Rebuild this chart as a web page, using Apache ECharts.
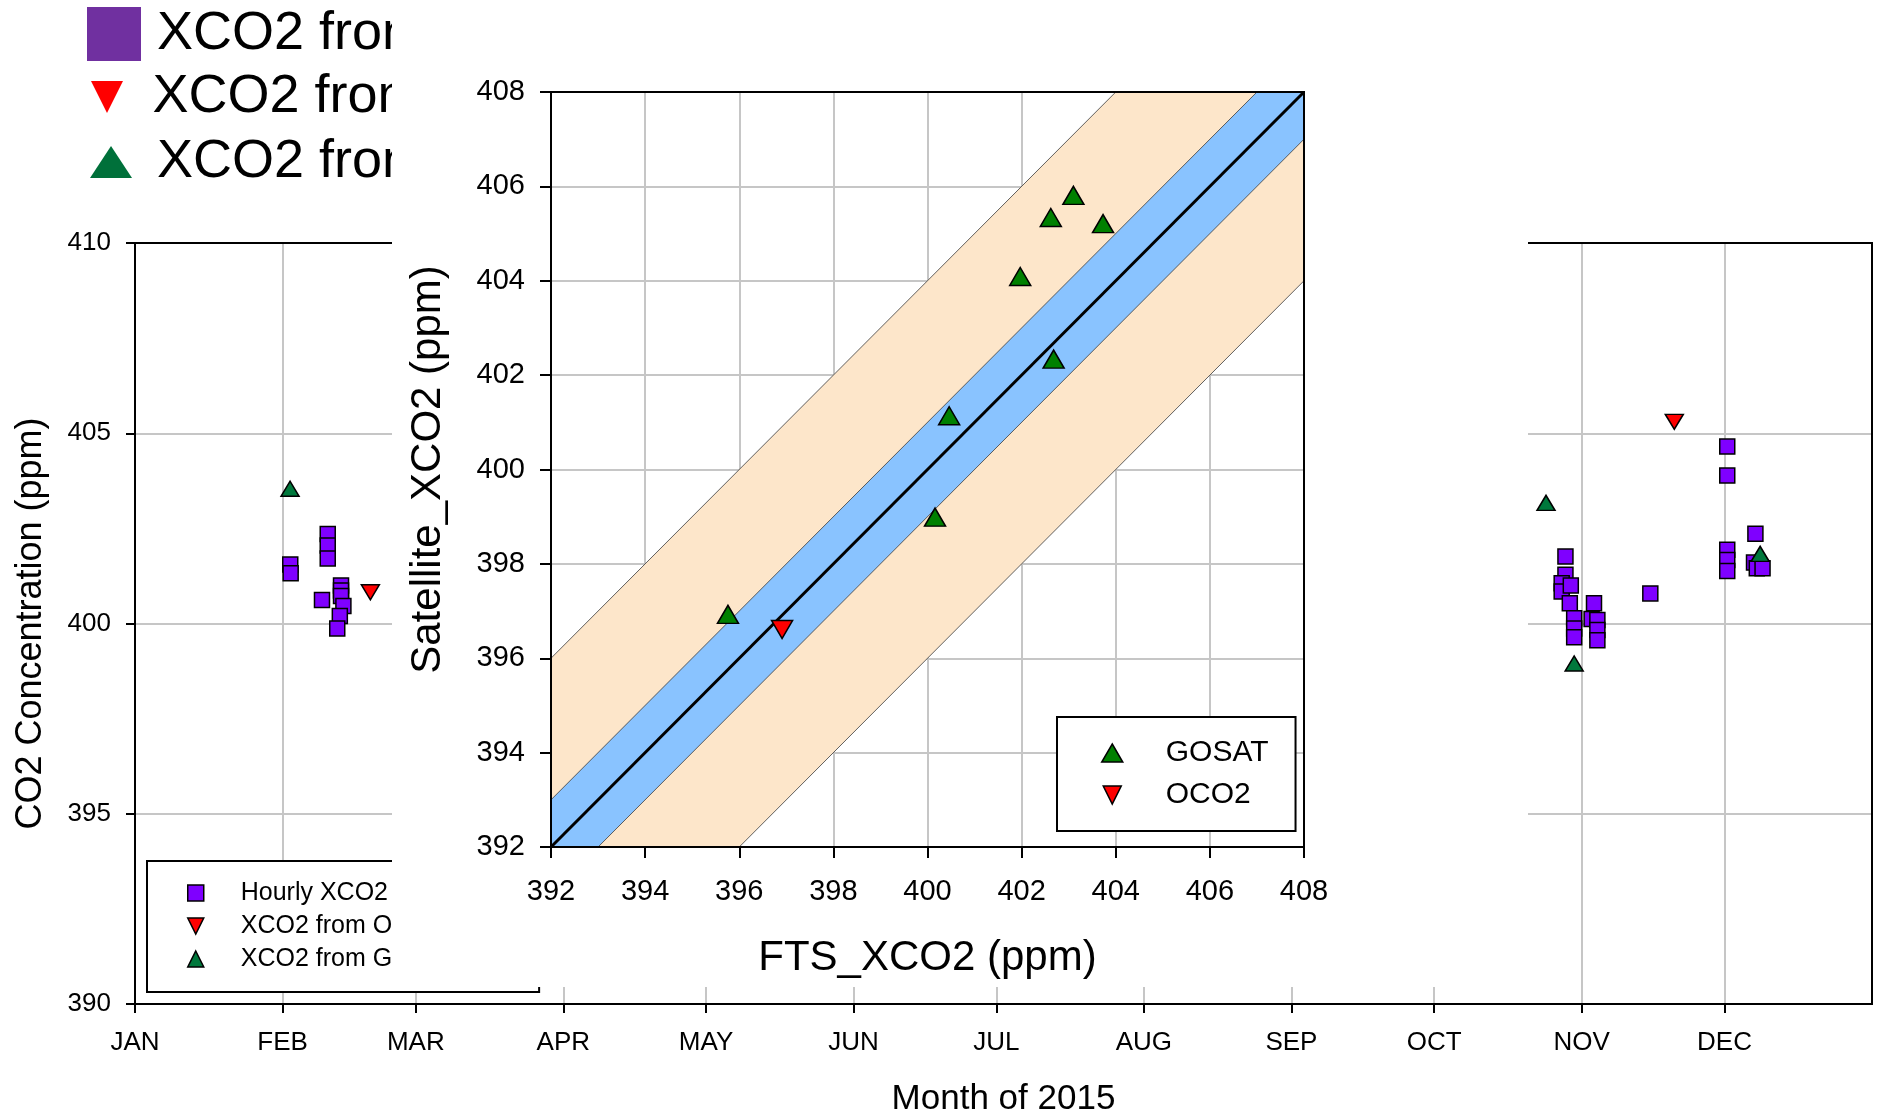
<!DOCTYPE html>
<html>
<head>
<meta charset="utf-8">
<title>XCO2 FTS vs satellite</title>
<script src="https://cdn.jsdelivr.net/npm/echarts@6/dist/echarts.min.js"></script>
<style>
  html, body { margin: 0; padding: 0; background: #fff; }
  #chart { width: 1878px; height: 1112px; }
</style>
</head>
<body>
<div id="chart"></div>
<script>
const monthLabels = ['JAN', 'FEB', 'MAR', 'APR', 'MAY', 'JUN', 'JUL', 'AUG', 'SEP', 'OCT', 'NOV', 'DEC']

// main panel: hourly FTS XCO2
const hourlyTimes = [
  '2015-02-02 15:00', '2015-02-02 17:00', '2015-02-09 07:00',
  '2015-02-10 12:00', '2015-02-10 12:00', '2015-02-10 12:00',
  '2015-02-13 07:00', '2015-02-13 07:00', '2015-02-13 07:00',
  '2015-02-13 19:00', '2015-02-13 01:00', '2015-02-12 12:00',
  '2015-10-28 14:00', '2015-10-28 14:00', '2015-10-27 19:00', '2015-10-27 19:00',
  '2015-10-29 17:00', '2015-10-29 12:00', '2015-10-30 10:00', '2015-10-30 10:00',
  '2015-10-30 10:00', '2015-11-03 14:00', '2015-11-03 02:00', '2015-11-04 07:00',
  '2015-11-04 07:00', '2015-11-04 07:00', '2015-11-15 10:00',
  '2015-12-01 14:00', '2015-12-01 14:00', '2015-12-01 14:00', '2015-12-01 14:00',
  '2015-12-01 14:00', '2015-12-07 12:00', '2015-12-07 05:00', '2015-12-07 19:00',
  '2015-12-09 00:00'
]
const hourlyValues = [
  401.55, 401.32, 400.62,
  402.35, 402.05, 401.71,
  401.0, 400.87, 400.72,
  400.46, 400.2, 399.87,
  401.76, 401.28, 401.06, 400.84,
  401.0, 400.53, 400.14, 399.87,
  399.64, 400.53, 400.12, 400.09,
  399.83, 399.56, 400.79,
  404.65, 403.89, 401.94, 401.67,
  401.38, 402.36, 401.6, 401.45,
  401.45
]
const oco2Times = ['2015-02-19 11:00', '2015-11-20 11:00']
const oco2Values = [400.82, 405.3]
const gosatTimes = ['2015-02-02 14:00', '2015-10-24 12:00', '2015-10-30 10:00', '2015-12-08 12:00']
const gosatValues = [403.54, 403.17, 398.95, 401.83]

// inset: satellite vs FTS
const gosatFts = [395.76, 400.16, 400.46, 401.97, 402.68, 402.62, 403.10, 403.73]
const gosatSat = [396.93, 398.99, 401.14, 404.09, 402.34, 405.34, 405.81, 405.21]
const oco2Fts = [396.91]
const oco2Sat = [396.61]
const insetMin = 392
const insetMax = 408
// bands around the 1:1 line (ppm offsets), wide one first
const bandOffsets = [[-4, 4], [-1, 1]]

const FONT = '"Liberation Sans", Arial, sans-serif'
const GRID_GREY = '#c6c6c6'
const DAY = 24 * 3600 * 1000
const DOWN_TRI = 'path://M0,0L2,0L1,2Z'
const bandFills = ['#FDE6CA', '#89C3FF']

const zip = (a, b) => a.map((v, i) => [v, b[i]])

// clip a polygon (data space) to the square [min, max]^2
function clipPolygon(pts, min, max) {
  const planes = [[0, min, 1], [0, max, -1], [1, min, 1], [1, max, -1]]
  planes.forEach(([dim, bound, sign]) => {
    const inside = p => sign * (p[dim] - bound) >= -1e-9
    const out = []
    pts.forEach((cur, i) => {
      const prev = pts[(i + pts.length - 1) % pts.length]
      const cross = () => {
        const t = (bound - prev[dim]) / (cur[dim] - prev[dim])
        return [prev[0] + t * (cur[0] - prev[0]), prev[1] + t * (cur[1] - prev[1])]
      }
      if (inside(cur)) {
        if (!inside(prev)) out.push(cross())
        out.push(cur)
      } else if (inside(prev)) {
        out.push(cross())
      }
    })
    pts = out
  })
  return pts
}

const chart = echarts.init(document.getElementById('chart'))

const axisBlack = { show: true, lineStyle: { color: '#000', width: 2 } }
const greySplit = { show: true, lineStyle: { color: GRID_GREY, width: 2 } }

const option = {
  backgroundColor: '#fff',
  animation: false,
  textStyle: { fontFamily: FONT, color: '#000' },
  grid: [
    {
      left: 135, top: 243, right: 6, bottom: 108,
      show: true, borderColor: '#000', borderWidth: 2, backgroundColor: 'transparent',
      z: 1, containLabel: false, outerBoundsMode: 'none'
    },
    {
      left: 551, top: 92, width: 753, height: 755,
      show: true, borderColor: '#000', borderWidth: 2, backgroundColor: 'transparent',
      z: 25, containLabel: false, outerBoundsMode: 'none'
    }
  ],
  xAxis: [
    {
      type: 'time',
      gridIndex: 0,
      min: '2015-01-01',
      max: '2016-01-01',
      splitNumber: 12,
      minInterval: 28 * DAY,
      maxInterval: 31 * DAY,
      axisLine: axisBlack,
      axisTick: { show: true, length: 9, lineStyle: { color: '#000', width: 2 } },
      axisLabel: {
        margin: 26,
        fontSize: 26,
        color: '#000',
        formatter: (v) => {
          const d = new Date(v)
          return d.getFullYear() === 2015 ? monthLabels[d.getMonth()] : ''
        }
      },
      splitLine: greySplit,
      name: 'Month of 2015',
      nameLocation: 'middle',
      nameGap: 78,
      nameTextStyle: { fontSize: 35, color: '#000' }
    },
    {
      type: 'value',
      gridIndex: 1,
      min: insetMin,
      max: insetMax,
      interval: 2,
      z: 20,
      axisLine: axisBlack,
      axisTick: { show: true, length: 11, lineStyle: { color: '#000', width: 2 } },
      axisLabel: { margin: 30, fontSize: 29, color: '#000' },
      splitLine: greySplit,
      name: 'FTS_XCO2 (ppm)',
      nameLocation: 'middle',
      nameGap: 90,
      nameTextStyle: { fontSize: 42, color: '#000' }
    }
  ],
  yAxis: [
    {
      type: 'value',
      gridIndex: 0,
      min: 390,
      max: 410,
      interval: 5,
      axisLine: axisBlack,
      axisTick: { show: true, length: 9, lineStyle: { color: '#000', width: 2 } },
      axisLabel: { margin: 24, fontSize: 26, color: '#000' },
      splitLine: greySplit,
      name: 'CO2 Concentration (ppm)',
      nameLocation: 'middle',
      nameRotate: 90,
      nameGap: 86,
      nameTextStyle: { fontSize: 36, color: '#000' }
    },
    {
      type: 'value',
      gridIndex: 1,
      min: insetMin,
      max: insetMax,
      interval: 2,
      z: 20,
      axisLine: axisBlack,
      axisTick: { show: true, length: 11, lineStyle: { color: '#000', width: 2 } },
      axisLabel: { margin: 26, fontSize: 29, color: '#000' },
      splitLine: greySplit,
      name: 'Satellite_XCO2 (ppm)',
      nameLocation: 'middle',
      nameRotate: 90,
      nameGap: 102,
      nameTextStyle: { fontSize: 42, color: '#000' }
    }
  ],
  legend: [
    {
      // legend of the time-series panel (mostly hidden behind the inset)
      orient: 'vertical',
      left: 147,
      top: 861,
      padding: [19, 40, 20, 40],
      itemGap: 7,
      itemWidth: 16,
      itemHeight: 16,
      backgroundColor: '#fff',
      borderColor: '#000',
      borderWidth: 2,
      borderRadius: 0,
      selectedMode: false,
      textStyle: { fontSize: 25, lineHeight: 26, color: '#000', padding: [0, 0, 0, 32] },
      data: [
        { name: 'Hourly XCO2 from FTS', icon: 'rect', itemStyle: { color: '#7F00FF', borderColor: '#000', borderWidth: 1.5, opacity: 1 } },
        { name: 'XCO2 from OCO2', icon: DOWN_TRI, itemStyle: { color: '#FF0000', borderColor: '#000', borderWidth: 1.5, opacity: 1 } },
        { name: 'XCO2 from GOSAT', icon: 'triangle', itemStyle: { color: '#00783C', borderColor: '#000', borderWidth: 1.5, opacity: 1 } }
      ]
    },
    {
      left: 87, top: 4, padding: 0, itemWidth: 54, itemHeight: 54, selectedMode: false,
      textStyle: { fontSize: 54, lineHeight: 60, color: '#000', padding: [0, 0, 0, 11] },
      data: [{ name: 'XCO2 from FTS', icon: 'rect', itemStyle: { color: '#7030A0', borderWidth: 0, opacity: 1 } }]
    },
    {
      left: 91, top: 67, padding: 0, itemWidth: 41, itemHeight: 32, selectedMode: false,
      textStyle: { fontSize: 54, lineHeight: 60, color: '#000', padding: [0, 0, 0, 20] },
      data: [{ name: 'XCO2 from OCO2', icon: DOWN_TRI, itemStyle: { color: '#FF0000', borderWidth: 0, opacity: 1 } }]
    },
    {
      left: 90, top: 132, padding: 0, itemWidth: 42, itemHeight: 32, selectedMode: false,
      textStyle: { fontSize: 54, lineHeight: 60, color: '#000', padding: [0, 0, 0, 20] },
      data: [{ name: 'XCO2 from GOSAT', icon: 'triangle', itemStyle: { color: '#00703A', borderWidth: 0, opacity: 1 } }]
    },
    {
      // inset legend
      orient: 'vertical',
      left: 1057,
      top: 717,
      z: 30,
      padding: [21, 27, 21, 44],
      itemGap: 12,
      itemWidth: 21,
      itemHeight: 18,
      backgroundColor: '#fff',
      borderColor: '#000',
      borderWidth: 2,
      selectedMode: false,
      textStyle: { fontSize: 30, lineHeight: 30, color: '#000', padding: [0, 0, 0, 38] },
      data: [
        { name: 'GOSAT', icon: 'triangle', itemStyle: { color: '#008000', borderColor: '#000', borderWidth: 1.5, opacity: 1 } },
        { name: 'OCO2', icon: DOWN_TRI, itemStyle: { color: '#FF0000', borderColor: '#000', borderWidth: 1.5, opacity: 1 } }
      ]
    }
  ],
  graphic: {
    elements: [
      {
        // white backdrop of the inset panel
        type: 'rect',
        z: 10,
        silent: true,
        shape: { x: 392, y: 0, width: 1136, height: 987 },
        style: { fill: '#fff' }
      }
    ]
  },
  series: [
    {
      name: 'Hourly XCO2 from FTS',
      type: 'scatter',
      xAxisIndex: 0,
      yAxisIndex: 0,
      z: 2,
      symbol: 'rect',
      symbolSize: 15,
      itemStyle: { color: '#7F00FF', borderColor: '#000', borderWidth: 1.5, opacity: 1 },
      data: zip(hourlyTimes, hourlyValues)
    },
    {
      name: 'XCO2 from OCO2',
      type: 'scatter',
      xAxisIndex: 0,
      yAxisIndex: 0,
      z: 3,
      symbol: DOWN_TRI,
      symbolSize: [18, 15],
      itemStyle: { color: '#FF0000', borderColor: '#000', borderWidth: 1.5, opacity: 1 },
      data: zip(oco2Times, oco2Values)
    },
    {
      name: 'XCO2 from GOSAT',
      type: 'scatter',
      xAxisIndex: 0,
      yAxisIndex: 0,
      z: 4,
      symbol: 'triangle',
      symbolSize: [18, 15],
      itemStyle: { color: '#00783C', borderColor: '#000', borderWidth: 1.5, opacity: 1 },
      data: zip(gosatTimes, gosatValues)
    },
    {
      name: 'XCO2 from FTS',
      type: 'scatter',
      xAxisIndex: 0,
      yAxisIndex: 0,
      itemStyle: { color: '#7030A0', opacity: 1 },
      data: []
    },
    {
      type: 'custom',
      xAxisIndex: 1,
      yAxisIndex: 1,
      z: 21,
      silent: true,
      data: bandOffsets,
      renderItem: (params, api) => {
        const lo = api.value(0)
        const hi = api.value(1)
        const poly = clipPolygon([
          [insetMin, insetMin + lo], [insetMax, insetMax + lo],
          [insetMax, insetMax + hi], [insetMin, insetMin + hi]
        ], insetMin, insetMax)
        return {
          type: 'polygon',
          shape: { points: poly.map(p => api.coord(p)) },
          style: { fill: bandFills[params.dataIndex], stroke: 'rgba(70,70,70,0.85)', lineWidth: 1 }
        }
      }
    },
    {
      type: 'line',
      xAxisIndex: 1,
      yAxisIndex: 1,
      z: 22,
      silent: true,
      symbol: 'none',
      lineStyle: { color: '#000', width: 3 },
      data: [[insetMin, insetMin], [insetMax, insetMax]]
    },
    {
      name: 'GOSAT',
      type: 'scatter',
      xAxisIndex: 1,
      yAxisIndex: 1,
      z: 23,
      symbol: 'triangle',
      symbolSize: [21, 18],
      itemStyle: { color: '#008000', borderColor: '#000', borderWidth: 1.5, opacity: 1 },
      data: zip(gosatFts, gosatSat)
    },
    {
      name: 'OCO2',
      type: 'scatter',
      xAxisIndex: 1,
      yAxisIndex: 1,
      z: 23,
      symbol: DOWN_TRI,
      symbolSize: [21, 18],
      itemStyle: { color: '#FF0000', borderColor: '#000', borderWidth: 1.5, opacity: 1 },
      data: zip(oco2Fts, oco2Sat)
    }
  ]
}

chart.setOption(option)
</script>
</body>
</html>
